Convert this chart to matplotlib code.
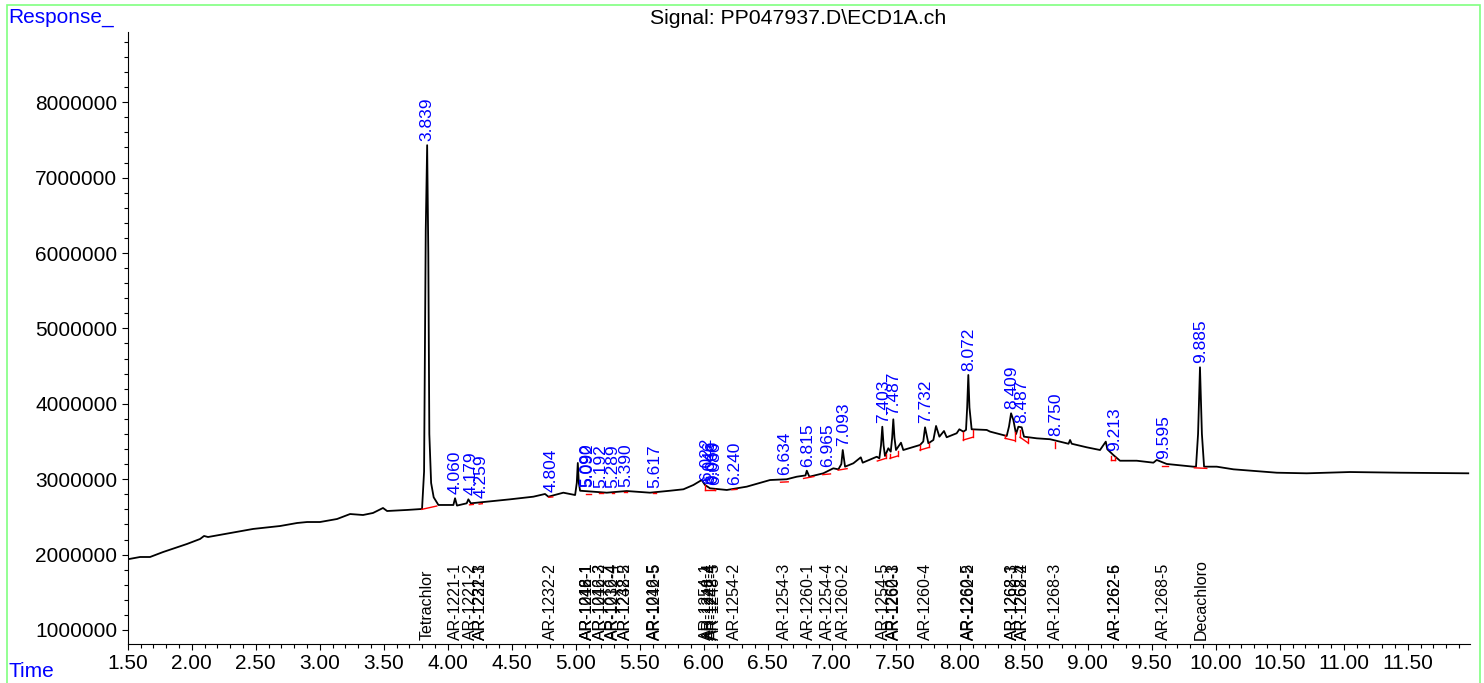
import numpy as np
import matplotlib
matplotlib.use('Agg')
import matplotlib.pyplot as plt
from matplotlib.ticker import MultipleLocator, FormatStrFormatter
from matplotlib.patches import Rectangle
import matplotlib.transforms as mtransforms

plt.rcParams['font.family'] = ['Liberation Sans', 'DejaVu Sans']

# retention time (min) and response (x 1e6)
rt = [1.500, 1.596, 1.674, 1.776, 1.963, 2.065, 2.096, 2.127, 2.299, 2.479,
      2.690, 2.823, 2.901, 3.002, 3.135, 3.237, 3.338, 3.416, 3.494, 3.526,
      3.682, 3.799, 3.815, 3.828, 3.839, 3.848, 3.856, 3.870, 3.890, 3.927,
      4.044, 4.057, 4.072, 4.148, 4.161, 4.180, 4.305, 4.487, 4.669, 4.760,
      4.786, 4.903, 4.995, 5.008, 5.016, 5.024, 5.034, 5.242, 5.398, 5.580,
      5.737, 5.841, 5.919, 5.984, 6.010, 6.049, 6.180, 6.336, 6.518, 6.648,
      6.727, 6.795, 6.805, 6.825, 6.934, 7.012, 7.052, 7.075, 7.086, 7.104,
      7.169, 7.227, 7.242, 7.352, 7.372, 7.385, 7.395, 7.405, 7.416, 7.442,
      7.461, 7.472, 7.481, 7.490, 7.502, 7.541, 7.559, 7.690, 7.715, 7.729,
      7.755, 7.794, 7.815, 7.841, 7.877, 7.898, 7.976, 7.997, 8.028, 8.049,
      8.058, 8.067, 8.076, 8.093, 8.211, 8.237, 8.367, 8.385, 8.401, 8.419,
      8.440, 8.458, 8.484, 8.502, 8.602, 8.706, 8.850, 8.862, 8.875, 8.992,
      9.096, 9.141, 9.153, 9.200, 9.252, 9.383, 9.513, 9.539, 9.617, 9.825,
      9.846, 9.862, 9.877, 9.892, 9.909, 10.008, 10.138, 10.477, 10.711, 11.049,
      11.440, 11.973]
resp = [1.938, 1.968, 1.968, 2.034, 2.141, 2.207, 2.247, 2.233, 2.286, 2.340,
        2.379, 2.419, 2.432, 2.432, 2.472, 2.538, 2.525, 2.552, 2.618, 2.578,
        2.592, 2.605, 3.100, 6.300, 7.430, 6.000, 3.600, 2.950, 2.760, 2.658,
        2.658, 2.747, 2.650, 2.680, 2.733, 2.680, 2.702, 2.733, 2.768, 2.804,
        2.768, 2.821, 2.790, 2.950, 3.215, 2.950, 2.847, 2.821, 2.843, 2.821,
        2.847, 2.866, 2.923, 2.989, 2.923, 2.879, 2.857, 2.901, 2.989, 2.999,
        3.033, 3.050, 3.113, 3.033, 3.078, 3.144, 3.131, 3.200, 3.387, 3.166,
        3.211, 3.290, 3.219, 3.298, 3.277, 3.450, 3.696, 3.450, 3.308, 3.410,
        3.365, 3.550, 3.794, 3.550, 3.387, 3.484, 3.387, 3.454, 3.500, 3.688,
        3.476, 3.520, 3.706, 3.564, 3.639, 3.556, 3.609, 3.662, 3.631, 3.653,
        3.950, 4.382, 3.950, 3.662, 3.653, 3.631, 3.573, 3.700, 3.874, 3.785,
        3.599, 3.696, 3.688, 3.564, 3.542, 3.530, 3.470, 3.520, 3.470, 3.423,
        3.387, 3.498, 3.397, 3.321, 3.245, 3.245, 3.219, 3.255, 3.202, 3.166,
        3.166, 3.600, 4.484, 3.600, 3.166, 3.166, 3.131, 3.086, 3.078, 3.095,
        3.086, 3.078]

# integration baselines (red), x 1e6
base_t0 = [3.797, 4.170, 4.245, 4.790, 5.080, 5.180, 5.280, 5.380, 5.600,
           6.010, 6.010, 6.090, 6.220, 6.600, 6.780, 6.930, 7.050,
           7.356, 7.424, 7.455, 7.455, 7.516, 7.690, 7.690, 7.763,
           8.028, 8.028, 8.101, 8.354, 8.354, 8.432, 8.471, 8.471, 8.531,
           8.745, 9.185, 9.185, 9.212, 9.578, 9.833]
base_v0 = [2.600, 2.660, 2.670, 2.760, 2.810, 2.815, 2.820, 2.825, 2.820,
           2.920, 2.850, 2.850, 2.860, 2.960, 3.010, 3.060, 3.120,
           3.241, 3.277, 3.330, 3.277, 3.308, 3.454, 3.387, 3.423,
           3.631, 3.520, 3.556, 3.580, 3.542, 3.511, 3.650, 3.556, 3.485,
           3.498, 3.310, 3.255, 3.255, 3.179, 3.151]
base_t1 = [3.914, 4.200, 4.270, 4.820, 5.120, 5.210, 5.300, 5.400, 5.630,
           6.010, 6.090, 6.090, 6.260, 6.660, 6.860, 6.990, 7.120,
           7.424, 7.424, 7.455, 7.516, 7.516, 7.690, 7.763, 7.763,
           8.028, 8.101, 8.101, 8.354, 8.432, 8.432, 8.471, 8.531, 8.531,
           8.745, 9.185, 9.212, 9.212, 9.630, 9.930]
base_v1 = [2.644, 2.665, 2.675, 2.765, 2.810, 2.815, 2.820, 2.825, 2.820,
           2.850, 2.850, 2.870, 2.865, 2.965, 3.035, 3.070, 3.140,
           3.277, 3.330, 3.277, 3.308, 3.380, 3.387, 3.423, 3.476,
           3.520, 3.556, 3.653, 3.542, 3.511, 3.620, 3.556, 3.485, 3.550,
           3.410, 3.255, 3.255, 3.290, 3.179, 3.143]

peak_times = [3.839, 4.060, 4.179, 4.259, 4.804, 5.090, 5.092, 5.192, 5.289,
              5.390, 5.617, 6.022, 6.046, 6.066, 6.086, 6.240, 6.634, 6.815,
              6.965, 7.093, 7.403, 7.487, 7.732, 8.072, 8.409, 8.487, 8.750,
              9.213, 9.595, 9.885]

cmpd_names = ['Tetrachlor', 'AR-1221-1', 'AR-1221-2', 'AR-1221-3', 'AR-1232-1',
              'AR-1232-2', 'AR-1016-1', 'AR-1242-1', 'AR-1248-1', 'AR-1016-3',
              'AR-1242-2', 'AR-1016-4', 'AR-1232-4', 'AR-1248-2', 'AR-1232-5',
              'AR-1016-5', 'AR-1242-5', 'AR-1254-1', 'AR-1248-4', 'AR-1242-4',
              'AR-1248-5', 'AR-1254-2', 'AR-1254-3', 'AR-1260-1', 'AR-1254-4',
              'AR-1260-2', 'AR-1254-5', 'AR-1262-1', 'AR-1260-3', 'AR-1260-4',
              'AR-1260-5', 'AR-1262-2', 'AR-1268-1', 'AR-1262-3', 'AR-1268-2',
              'AR-1262-4', 'AR-1268-3', 'AR-1262-5', 'AR-1262-6', 'AR-1268-5',
              'Decachloro']
cmpd_times = [3.839, 4.060, 4.179, 4.252, 4.259,
              4.804, 5.090, 5.092, 5.090, 5.192,
              5.195, 5.289, 5.292, 5.390, 5.392,
              5.617, 5.620, 6.022, 6.046, 6.066,
              6.086, 6.240, 6.634, 6.815, 6.965,
              7.093, 7.403, 7.480, 7.487, 7.732,
              8.072, 8.075, 8.409, 8.412, 8.487,
              8.490, 8.750, 9.213, 9.216, 9.595,
              9.885]

rt = np.array(rt)
resp = np.array(resp) * 1e6

fig = plt.figure(figsize=(14.84, 6.83), dpi=100)
ax = fig.add_axes([0.0861, 0.0571, 0.9045, 0.896])

ax.plot(rt, resp, color='black', lw=1.3)
for a, b, c, d in zip(base_t0, base_v0, base_t1, base_v1):
    ax.plot([a, c], [b * 1e6, d * 1e6], color='red', lw=1.0)

for t in peak_times:
    near = resp[np.abs(rt - t) < 0.02]
    y = near.max() if len(near) else np.interp(t, rt, resp)
    y = max(y, np.interp(t, rt, resp))
    ax.annotate('%.3f' % t, (t, y), xytext=(0, 3), textcoords='offset points',
                rotation=90, ha='center', va='bottom', color='blue', fontsize=12.5)

trans = mtransforms.blended_transform_factory(ax.transData, ax.transAxes)
for name, t in zip(cmpd_names, cmpd_times):
    ax.text(t, 0.006, name, transform=trans, rotation=90, ha='center',
            va='bottom', color='black', fontsize=11.5)

ax.set_xlim(1.5, 11.987)
ax.set_ylim(814000, 8931000)
ax.spines['top'].set_visible(False)
ax.spines['right'].set_visible(False)
ax.xaxis.set_major_locator(MultipleLocator(0.5))
ax.xaxis.set_minor_locator(MultipleLocator(0.1))
ax.xaxis.set_major_formatter(FormatStrFormatter('%.2f'))
ax.yaxis.set_major_locator(MultipleLocator(1000000))
ax.yaxis.set_minor_locator(MultipleLocator(200000))
ax.yaxis.set_major_formatter(FormatStrFormatter('%d'))
ax.tick_params(which='major', length=4.5, width=0.8, labelsize=15, pad=3)
ax.tick_params(which='minor', length=3, width=0.8)

fig.text(0.538, 0.9736, 'Signal: PP047937.D\\ECD1A.ch', ha='center', va='center', fontsize=15.3)
fig.text(0.0055, 0.975, 'Response_', ha='left', va='center', color='blue', fontsize=15)
fig.text(0.0055, 0.017, 'Time', ha='left', va='center', color='blue', fontsize=15)

frame = Rectangle((0.0044, -0.02), 0.9929, 1.0134, transform=fig.transFigure,
                  fill=False, edgecolor='#80ff80', lw=1.2, clip_on=False)
fig.patches.append(frame)

fig.savefig('out.png', dpi=100)
